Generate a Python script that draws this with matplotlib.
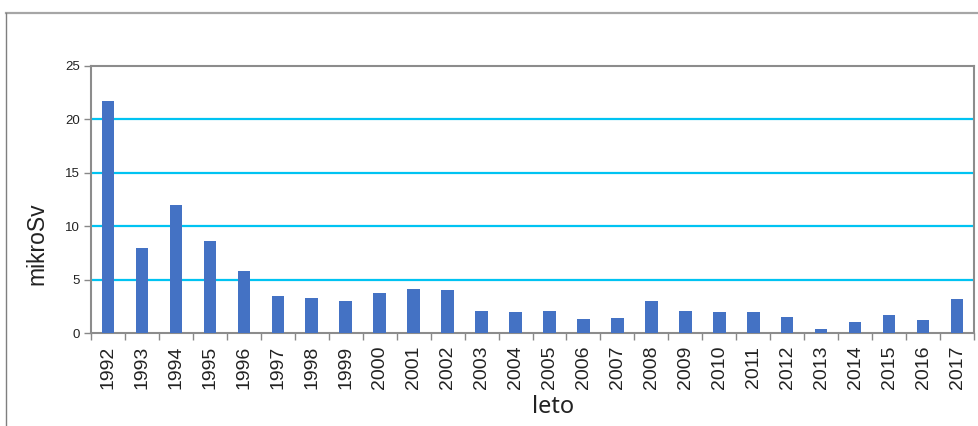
import matplotlib
matplotlib.use("Agg")
import matplotlib.pyplot as plt
from matplotlib.lines import Line2D
import numpy as np

# yearly dose values
years = [str(y) for y in range(1992, 2018)]
dose = [21.7, 8.0, 12.0, 8.6, 5.8, 3.5, 3.3, 3.0, 3.75, 4.1, 4.0, 2.05,
        1.95, 2.05, 1.35, 1.45, 3.0, 2.05, 1.95, 1.95, 1.5, 0.4, 1.0,
        1.7, 1.25, 3.15]
y_ticks = [0, 5, 10, 15, 20, 25]

W, H = 979, 426
fig = plt.figure(figsize=(W / 100, H / 100), dpi=100)
ax = fig.add_axes([91 / W, (H - 333) / H, (974 - 91) / W, (333 - 66) / H])

x = np.arange(len(years))
ax.bar(x, dose, width=0.37, color="#4472C4", zorder=3)

# light blue horizontal grid, no line at the top (that's the frame)
for v in y_ticks[1:-1]:
    ax.axhline(v, color="#00C3F2", lw=1.6, zorder=1)

ax.set_xlim(-0.5, len(years) - 0.5)
ax.set_ylim(0, 25)
ax.set_yticks(y_ticks)
ax.set_yticklabels([str(v) for v in y_ticks], fontsize=9.5,
                   family="Liberation Sans", color="#222222")

# labels at bar centres, tick marks at category boundaries
ax.set_xticks(x)
ax.set_xticklabels(years, rotation=90, fontsize=14, family="Liberation Sans",
                   color="#222222")
ax.set_xticks(np.arange(len(years) + 1) - 0.5, minor=True)
ax.tick_params(axis="x", which="major", length=0, pad=9)
ax.tick_params(axis="x", which="minor", length=5, width=1, color="#888888")
ax.tick_params(axis="y", length=5, width=1, color="#888888", pad=3)

for s in ax.spines.values():
    s.set_color("#8C8C8C")
    s.set_linewidth(1.5)

ax.set_ylabel("mikroSv", fontsize=16.5, family="Liberation Sans", color="#222222")
ax.yaxis.set_label_coords(-(91 - 48) / (974 - 91), (333 - 244) / (333 - 66))
ax.set_xlabel("leto", fontsize=17, family="Noto Sans", color="#222222")
ax.xaxis.set_label_coords((553 - 91) / (974 - 91), -(395 - 333) / (333 - 66))

# outer chart frame (top and left edges visible)
fig.add_artist(Line2D([6.5 / W, 1], [1 - 13 / H] * 2, color="#A6A6A6", lw=1.6))
fig.add_artist(Line2D([6.5 / W] * 2, [0, 1 - 13 / H], color="#7F7F7F", lw=1.0))

fig.savefig("out.png", dpi=100)
